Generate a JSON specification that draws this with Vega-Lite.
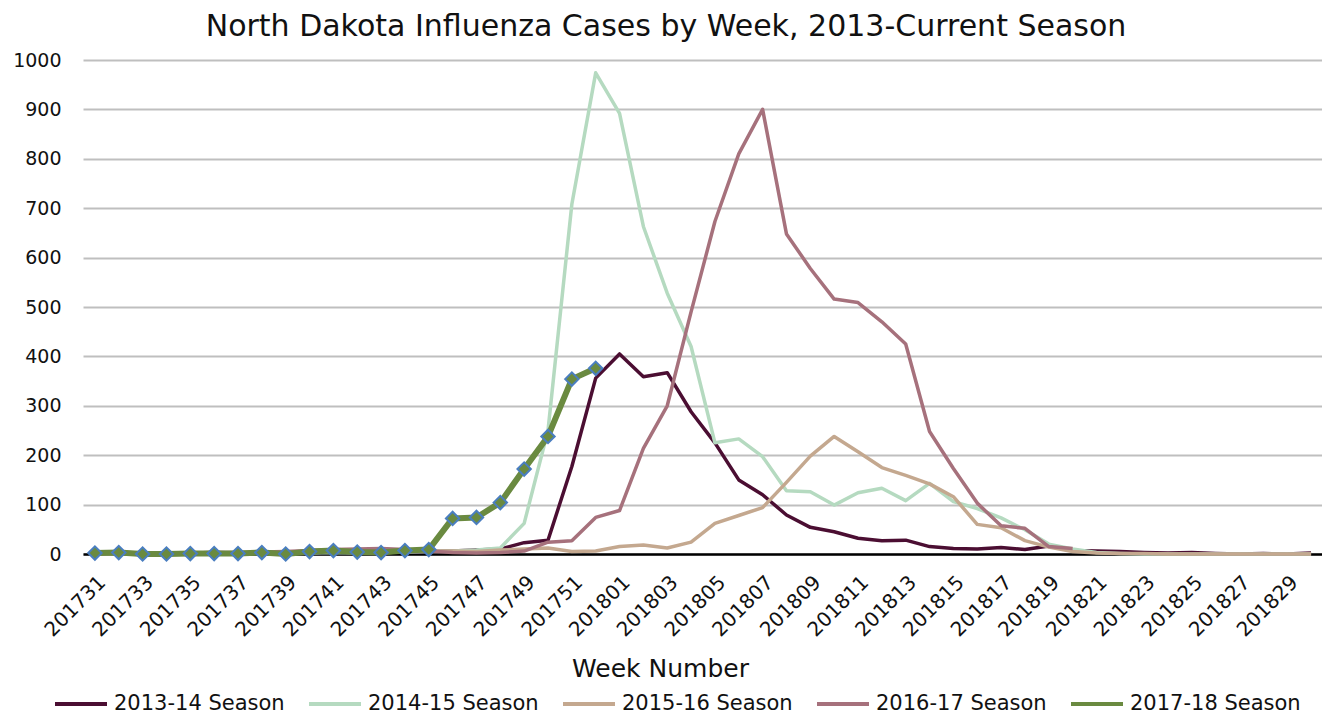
{
  "$schema": "https://vega.github.io/schema/vega-lite/v6.json",
  "width": 1240,
  "height": 494,
  "autosize": "none",
  "padding": {"left": 83, "top": 60, "right": 0, "bottom": 161},
  "background": "white",
  "config": {
    "view": {"stroke": null},
    "font": "DejaVu Sans"
  },
  "title": {
    "text": "North Dakota Influenza Cases by Week, 2013-Current Season",
    "fontSize": 30,
    "fontWeight": "normal",
    "color": "#111111",
    "anchor": "middle",
    "dx": -37,
    "offset": 9
  },
  "datasets": {
    "flu": [
      {"week":"201731","season":"2013-14 Season","cases":2},{"week":"201732","season":"2013-14 Season","cases":3},{"week":"201733","season":"2013-14 Season","cases":1},{"week":"201734","season":"2013-14 Season","cases":2},{"week":"201735","season":"2013-14 Season","cases":2},{"week":"201736","season":"2013-14 Season","cases":3},{"week":"201737","season":"2013-14 Season","cases":2},{"week":"201738","season":"2013-14 Season","cases":3},{"week":"201739","season":"2013-14 Season","cases":4},{"week":"201740","season":"2013-14 Season","cases":3},{"week":"201741","season":"2013-14 Season","cases":5},{"week":"201742","season":"2013-14 Season","cases":4},{"week":"201743","season":"2013-14 Season","cases":5},{"week":"201744","season":"2013-14 Season","cases":4},{"week":"201745","season":"2013-14 Season","cases":5},{"week":"201746","season":"2013-14 Season","cases":6},{"week":"201747","season":"2013-14 Season","cases":8},{"week":"201748","season":"2013-14 Season","cases":10},{"week":"201749","season":"2013-14 Season","cases":23},{"week":"201750","season":"2013-14 Season","cases":28},{"week":"201751","season":"2013-14 Season","cases":177},{"week":"201752","season":"2013-14 Season","cases":356},{"week":"201801","season":"2013-14 Season","cases":405},{"week":"201802","season":"2013-14 Season","cases":359},{"week":"201803","season":"2013-14 Season","cases":367},{"week":"201804","season":"2013-14 Season","cases":288},{"week":"201805","season":"2013-14 Season","cases":225},{"week":"201806","season":"2013-14 Season","cases":150},{"week":"201807","season":"2013-14 Season","cases":120},{"week":"201808","season":"2013-14 Season","cases":79},{"week":"201809","season":"2013-14 Season","cases":54},{"week":"201810","season":"2013-14 Season","cases":45},{"week":"201811","season":"2013-14 Season","cases":32},{"week":"201812","season":"2013-14 Season","cases":27},{"week":"201813","season":"2013-14 Season","cases":28},{"week":"201814","season":"2013-14 Season","cases":15},{"week":"201815","season":"2013-14 Season","cases":11},{"week":"201816","season":"2013-14 Season","cases":10},{"week":"201817","season":"2013-14 Season","cases":13},{"week":"201818","season":"2013-14 Season","cases":9},{"week":"201819","season":"2013-14 Season","cases":16},{"week":"201820","season":"2013-14 Season","cases":7},{"week":"201821","season":"2013-14 Season","cases":6},{"week":"201822","season":"2013-14 Season","cases":5},{"week":"201823","season":"2013-14 Season","cases":3},{"week":"201824","season":"2013-14 Season","cases":2},{"week":"201825","season":"2013-14 Season","cases":3},{"week":"201826","season":"2013-14 Season","cases":1},{"week":"201827","season":"2013-14 Season","cases":0},{"week":"201828","season":"2013-14 Season","cases":1},{"week":"201829","season":"2013-14 Season","cases":0},{"week":"201830","season":"2013-14 Season","cases":2},
      {"week":"201731","season":"2014-15 Season","cases":0},{"week":"201732","season":"2014-15 Season","cases":0},{"week":"201733","season":"2014-15 Season","cases":1},{"week":"201734","season":"2014-15 Season","cases":0},{"week":"201735","season":"2014-15 Season","cases":1},{"week":"201736","season":"2014-15 Season","cases":1},{"week":"201737","season":"2014-15 Season","cases":0},{"week":"201738","season":"2014-15 Season","cases":2},{"week":"201739","season":"2014-15 Season","cases":1},{"week":"201740","season":"2014-15 Season","cases":2},{"week":"201741","season":"2014-15 Season","cases":3},{"week":"201742","season":"2014-15 Season","cases":2},{"week":"201743","season":"2014-15 Season","cases":3},{"week":"201744","season":"2014-15 Season","cases":4},{"week":"201745","season":"2014-15 Season","cases":5},{"week":"201746","season":"2014-15 Season","cases":6},{"week":"201747","season":"2014-15 Season","cases":8},{"week":"201748","season":"2014-15 Season","cases":12},{"week":"201749","season":"2014-15 Season","cases":62},{"week":"201750","season":"2014-15 Season","cases":250},{"week":"201751","season":"2014-15 Season","cases":708},{"week":"201752","season":"2014-15 Season","cases":974},{"week":"201801","season":"2014-15 Season","cases":892},{"week":"201802","season":"2014-15 Season","cases":663},{"week":"201803","season":"2014-15 Season","cases":528},{"week":"201804","season":"2014-15 Season","cases":420},{"week":"201805","season":"2014-15 Season","cases":225},{"week":"201806","season":"2014-15 Season","cases":233},{"week":"201807","season":"2014-15 Season","cases":197},{"week":"201808","season":"2014-15 Season","cases":128},{"week":"201809","season":"2014-15 Season","cases":126},{"week":"201810","season":"2014-15 Season","cases":99},{"week":"201811","season":"2014-15 Season","cases":124},{"week":"201812","season":"2014-15 Season","cases":133},{"week":"201813","season":"2014-15 Season","cases":108},{"week":"201814","season":"2014-15 Season","cases":143},{"week":"201815","season":"2014-15 Season","cases":106},{"week":"201816","season":"2014-15 Season","cases":92},{"week":"201817","season":"2014-15 Season","cases":73},{"week":"201818","season":"2014-15 Season","cases":49},{"week":"201819","season":"2014-15 Season","cases":20},{"week":"201820","season":"2014-15 Season","cases":10},{"week":"201821","season":"2014-15 Season","cases":3},{"week":"201822","season":"2014-15 Season","cases":1},{"week":"201823","season":"2014-15 Season","cases":0},{"week":"201824","season":"2014-15 Season","cases":0},{"week":"201825","season":"2014-15 Season","cases":0},{"week":"201826","season":"2014-15 Season","cases":0},{"week":"201827","season":"2014-15 Season","cases":0},{"week":"201828","season":"2014-15 Season","cases":0},{"week":"201829","season":"2014-15 Season","cases":0},{"week":"201830","season":"2014-15 Season","cases":0},
      {"week":"201731","season":"2015-16 Season","cases":1},{"week":"201732","season":"2015-16 Season","cases":2},{"week":"201733","season":"2015-16 Season","cases":1},{"week":"201734","season":"2015-16 Season","cases":1},{"week":"201735","season":"2015-16 Season","cases":2},{"week":"201736","season":"2015-16 Season","cases":1},{"week":"201737","season":"2015-16 Season","cases":2},{"week":"201738","season":"2015-16 Season","cases":3},{"week":"201739","season":"2015-16 Season","cases":2},{"week":"201740","season":"2015-16 Season","cases":4},{"week":"201741","season":"2015-16 Season","cases":5},{"week":"201742","season":"2015-16 Season","cases":5},{"week":"201743","season":"2015-16 Season","cases":6},{"week":"201744","season":"2015-16 Season","cases":7},{"week":"201745","season":"2015-16 Season","cases":6},{"week":"201746","season":"2015-16 Season","cases":6},{"week":"201747","season":"2015-16 Season","cases":5},{"week":"201748","season":"2015-16 Season","cases":8},{"week":"201749","season":"2015-16 Season","cases":10},{"week":"201750","season":"2015-16 Season","cases":12},{"week":"201751","season":"2015-16 Season","cases":5},{"week":"201752","season":"2015-16 Season","cases":6},{"week":"201801","season":"2015-16 Season","cases":15},{"week":"201802","season":"2015-16 Season","cases":18},{"week":"201803","season":"2015-16 Season","cases":12},{"week":"201804","season":"2015-16 Season","cases":24},{"week":"201805","season":"2015-16 Season","cases":62},{"week":"201806","season":"2015-16 Season","cases":78},{"week":"201807","season":"2015-16 Season","cases":94},{"week":"201808","season":"2015-16 Season","cases":145},{"week":"201809","season":"2015-16 Season","cases":198},{"week":"201810","season":"2015-16 Season","cases":238},{"week":"201811","season":"2015-16 Season","cases":207},{"week":"201812","season":"2015-16 Season","cases":175},{"week":"201813","season":"2015-16 Season","cases":159},{"week":"201814","season":"2015-16 Season","cases":142},{"week":"201815","season":"2015-16 Season","cases":116},{"week":"201816","season":"2015-16 Season","cases":60},{"week":"201817","season":"2015-16 Season","cases":53},{"week":"201818","season":"2015-16 Season","cases":27},{"week":"201819","season":"2015-16 Season","cases":14},{"week":"201820","season":"2015-16 Season","cases":5},{"week":"201821","season":"2015-16 Season","cases":2},{"week":"201822","season":"2015-16 Season","cases":1},{"week":"201823","season":"2015-16 Season","cases":1},{"week":"201824","season":"2015-16 Season","cases":0},{"week":"201825","season":"2015-16 Season","cases":0},{"week":"201826","season":"2015-16 Season","cases":0},{"week":"201827","season":"2015-16 Season","cases":0},{"week":"201828","season":"2015-16 Season","cases":0},{"week":"201829","season":"2015-16 Season","cases":0},{"week":"201830","season":"2015-16 Season","cases":0},
      {"week":"201731","season":"2016-17 Season","cases":0},{"week":"201732","season":"2016-17 Season","cases":1},{"week":"201733","season":"2016-17 Season","cases":1},{"week":"201734","season":"2016-17 Season","cases":1},{"week":"201735","season":"2016-17 Season","cases":2},{"week":"201736","season":"2016-17 Season","cases":3},{"week":"201737","season":"2016-17 Season","cases":3},{"week":"201738","season":"2016-17 Season","cases":4},{"week":"201739","season":"2016-17 Season","cases":5},{"week":"201740","season":"2016-17 Season","cases":7},{"week":"201741","season":"2016-17 Season","cases":9},{"week":"201742","season":"2016-17 Season","cases":10},{"week":"201743","season":"2016-17 Season","cases":11},{"week":"201744","season":"2016-17 Season","cases":9},{"week":"201745","season":"2016-17 Season","cases":6},{"week":"201746","season":"2016-17 Season","cases":3},{"week":"201747","season":"2016-17 Season","cases":2},{"week":"201748","season":"2016-17 Season","cases":3},{"week":"201749","season":"2016-17 Season","cases":6},{"week":"201750","season":"2016-17 Season","cases":24},{"week":"201751","season":"2016-17 Season","cases":27},{"week":"201752","season":"2016-17 Season","cases":74},{"week":"201801","season":"2016-17 Season","cases":88},{"week":"201802","season":"2016-17 Season","cases":214},{"week":"201803","season":"2016-17 Season","cases":300},{"week":"201804","season":"2016-17 Season","cases":490},{"week":"201805","season":"2016-17 Season","cases":673},{"week":"201806","season":"2016-17 Season","cases":810},{"week":"201807","season":"2016-17 Season","cases":900},{"week":"201808","season":"2016-17 Season","cases":648},{"week":"201809","season":"2016-17 Season","cases":578},{"week":"201810","season":"2016-17 Season","cases":516},{"week":"201811","season":"2016-17 Season","cases":509},{"week":"201812","season":"2016-17 Season","cases":470},{"week":"201813","season":"2016-17 Season","cases":425},{"week":"201814","season":"2016-17 Season","cases":248},{"week":"201815","season":"2016-17 Season","cases":173},{"week":"201816","season":"2016-17 Season","cases":103},{"week":"201817","season":"2016-17 Season","cases":57},{"week":"201818","season":"2016-17 Season","cases":52},{"week":"201819","season":"2016-17 Season","cases":15},{"week":"201820","season":"2016-17 Season","cases":11},
      {"week":"201731","season":"2017-18 Season","cases":2},{"week":"201732","season":"2017-18 Season","cases":3},{"week":"201733","season":"2017-18 Season","cases":0},{"week":"201734","season":"2017-18 Season","cases":0},{"week":"201735","season":"2017-18 Season","cases":1},{"week":"201736","season":"2017-18 Season","cases":1},{"week":"201737","season":"2017-18 Season","cases":1},{"week":"201738","season":"2017-18 Season","cases":3},{"week":"201739","season":"2017-18 Season","cases":0},{"week":"201740","season":"2017-18 Season","cases":5},{"week":"201741","season":"2017-18 Season","cases":7},{"week":"201742","season":"2017-18 Season","cases":4},{"week":"201743","season":"2017-18 Season","cases":3},{"week":"201744","season":"2017-18 Season","cases":7},{"week":"201745","season":"2017-18 Season","cases":9},{"week":"201746","season":"2017-18 Season","cases":72},{"week":"201747","season":"2017-18 Season","cases":74},{"week":"201748","season":"2017-18 Season","cases":104},{"week":"201749","season":"2017-18 Season","cases":172},{"week":"201750","season":"2017-18 Season","cases":238},{"week":"201751","season":"2017-18 Season","cases":354},{"week":"201752","season":"2017-18 Season","cases":376}
    ]
  },
  "data": {"name": "flu"},
  "encoding": {
    "x": {
      "field": "week",
      "type": "ordinal",
      "scale": {"type": "point", "padding": 0.5},
      "axis": {
        "title": "Week Number",
        "titleFontSize": 25,
        "titleFontWeight": "normal",
        "titleColor": "#111111",
        "titleX": 577,
        "titleY": 114,
        "titleBaseline": "middle",
        "titleAnchor": "middle",
        "values": ["201731","201733","201735","201737","201739","201741","201743","201745","201747","201749","201751","201801","201803","201805","201807","201809","201811","201813","201815","201817","201819","201821","201823","201825","201827","201829"],
        "labelAngle": -45,
        "labelFontSize": 20,
        "labelColor": "#111111",
        "labelPadding": 18,
        "labelOverlap": false,
        "ticks": false,
        "domain": true,
        "domainColor": "#000000",
        "domainWidth": 2.5,
        "grid": false
      }
    },
    "y": {
      "field": "cases",
      "type": "quantitative",
      "scale": {"domain": [0, 1000], "nice": false},
      "axis": {
        "title": null,
        "format": "d",
        "values": [0,100,200,300,400,500,600,700,800,900,1000],
        "labelFontSize": 19,
        "labelColor": "#111111",
        "labelPadding": 22,
        "ticks": false,
        "domain": false,
        "grid": true,
        "gridColor": "#BFBFBF",
        "gridWidth": 2
      }
    }
  },
  "layer": [
    {
      "mark": {"type": "line", "strokeJoin": "round"},
      "encoding": {
        "color": {
          "field": "season",
          "type": "nominal",
          "scale": {
            "domain": ["2013-14 Season","2014-15 Season","2015-16 Season","2016-17 Season","2017-18 Season"],
            "range": ["#4B0E32","#B5DAC0","#C4A88F","#A6717C","#6A8A40"]
          },
          "legend": {
            "title": null,
            "orient": "none",
            "legendX": -30,
            "legendY": 616,
            "direction": "horizontal",
            "symbolType": "stroke",
            "symbolSize": 2704,
            "symbolStrokeWidth": 4,
            "labelFontSize": 21,
            "labelColor": "#111111",
            "labelOffset": 5,
            "columnPadding": 16,
            "labelLimit": 300
          }
        },
        "strokeWidth": {
          "condition": {"test": "datum.season === '2017-18 Season'", "value": 6},
          "value": 3.5
        }
      }
    },
    {
      "transform": [{"filter": "datum.season === '2017-18 Season'"}],
      "mark": {"type": "point", "shape": "diamond", "filled": true, "fill": "#6A8A40", "stroke": "#4A7EC0", "strokeWidth": 2, "size": 180, "opacity": 1}
    }
  ]
}
